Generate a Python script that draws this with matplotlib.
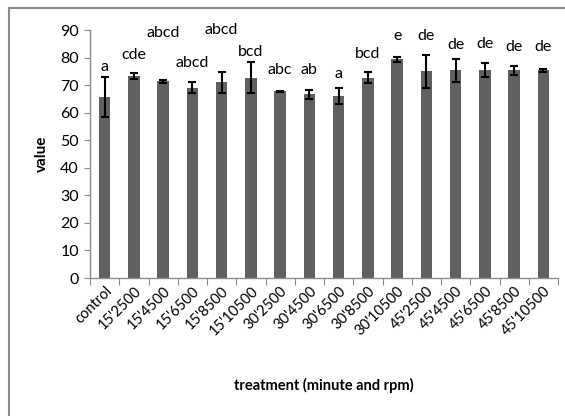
import matplotlib
matplotlib.use("Agg")
import matplotlib.pyplot as plt
from matplotlib.patches import Rectangle

plt.rcParams['font.family'] = ['Lato', 'DejaVu Sans']

treatments = ["control", "15'2500", "15'4500", "15'6500", "15'8500", "15'10500",
              "30'2500", "30'4500", "30'6500", "30'8500", "30'10500",
              "45'2500", "45'4500", "45'6500", "45'8500", "45'10500"]
means = [65.7, 73.4, 71.4, 69.0, 71.0, 72.7, 67.7, 66.6, 66.0, 72.7, 79.3,
         75.0, 75.4, 75.4, 75.4, 75.4]
errors = [7.4, 1.1, 0.5, 2.0, 3.8, 5.7, 0.3, 1.7, 3.0, 2.1, 0.8,
          6.0, 4.2, 2.5, 1.6, 0.5]
groups = ["a", "cde", "abcd", "abcd", "abcd", "bcd", "abc", "ab", "a", "bcd", "e",
          "de", "de", "de", "de", "de"]
group_label_y = [76.5, 80.8, 89.0, 78.0, 90.0, 82.0, 75.4, 75.4, 74.0, 81.4, 88.0,
                 88.0, 84.5, 85.0, 84.0, 84.0]

fig = plt.figure(figsize=(5.65, 4.16), dpi=100)
ax = fig.add_axes([90 / 565, (416 - 278) / 416, (558 - 90) / 565, (278 - 30) / 416])

# chart-area border
fig.patches.append(Rectangle((9 / 565, -0.1), 1.2, (416 - 8) / 416 + 0.1,
                             transform=fig.transFigure, fill=False,
                             edgecolor='#8c8c8c', linewidth=1.5))

x = range(len(treatments))
ax.bar(x, means, width=0.4, color='#606060', zorder=2)
ax.errorbar(x, means, yerr=errors, fmt='none', ecolor='black',
            elinewidth=1.5, capsize=3, capthick=1.5, zorder=3)

for xi, g, gy in zip(x, groups, group_label_y):
    ax.text(xi, gy, g, ha='center', va='center', fontsize=11.5, color='black')

ax.set_xlim(-0.5, len(treatments) - 0.5)
ax.set_ylim(0, 90)
ax.set_yticks(range(0, 91, 10))
ax.set_xticks([i - 0.5 for i in range(len(treatments) + 1)], minor=False)
ax.set_xticklabels([])
ax.set_xticks(list(x), minor=True)
ax.set_xticklabels(treatments, minor=True, rotation=45, ha='right',
                   rotation_mode='anchor', fontsize=10.5)
ax.tick_params(axis='x', which='minor', length=0, pad=4)
ax.tick_params(axis='x', which='major', length=5, color='#8c8c8c', direction='out')
ax.tick_params(axis='y', length=4, color='#8c8c8c', labelsize=11.5, pad=4)

for side in ('top', 'right'):
    ax.spines[side].set_visible(False)
for side in ('left', 'bottom'):
    ax.spines[side].set_color('#8c8c8c')
    ax.spines[side].set_linewidth(1.0)

ax.set_ylabel('value', fontsize=11, fontweight='bold', labelpad=8)
fig.text((90 + 558) / 2 / 565, 1 - 385 / 416, 'treatment (minute and rpm)',
         ha='center', va='center', fontsize=10.5, fontweight='bold')

fig.savefig('out.png', dpi=100)
